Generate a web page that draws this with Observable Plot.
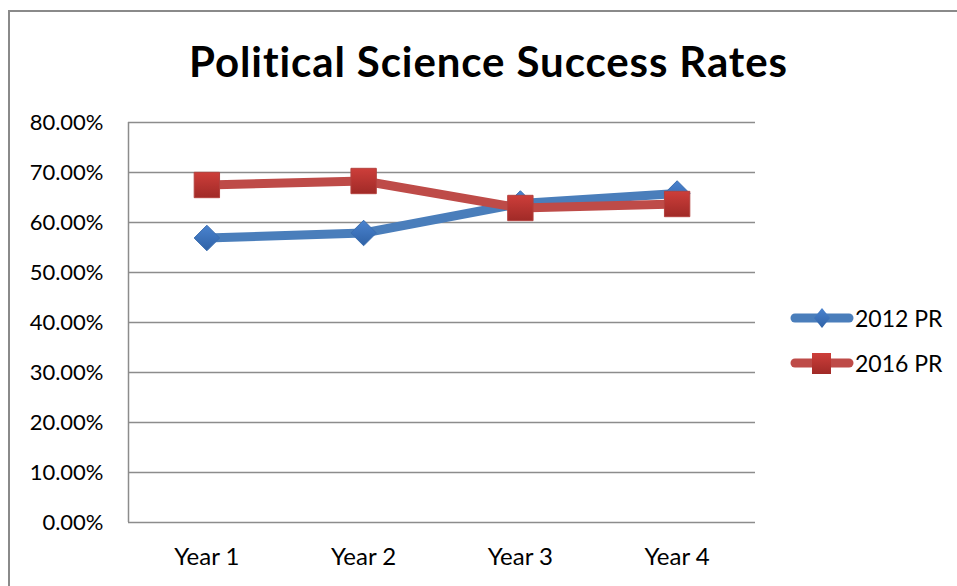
<!DOCTYPE html>
<html>
<head>
<meta charset="utf-8">
<script src="https://cdn.jsdelivr.net/npm/d3@7"></script>
<script src="https://cdn.jsdelivr.net/npm/@observablehq/plot@0.6"></script>
<style>
  body { margin: 0; background: #fff; font-family: Lato, "Open Sans", sans-serif; }
  #wrap { position: relative; width: 957px; height: 586px; overflow: hidden; background: #fff; }
  #border { position: absolute; left: 8px; top: 10px; width: 1200px; height: 800px; border: 2px solid #8a8a8a; box-sizing: border-box; }
  #title { position: absolute; left: 0; width: 977px; top: 40px; line-height: 1; text-align: center; font-weight: bold; font-size: 42px; letter-spacing: 0.9px; color: #000; }
  #chart { position: absolute; left: 0; top: 100px; }
  #legend { position: absolute; left: 790px; top: 295px; font-size: 23px; color: #000; }
  .lg { display: flex; align-items: center; height: 45px; }
  .lg svg { margin-right: 1px; }
</style>
</head>
<body>
<div id="wrap">
  <div id="border"></div>
  <div id="title">Political Science Success Rates</div>
  <div id="chart"></div>
  <div id="legend"></div>
</div>
<script>
const years = ["Year 1", "Year 2", "Year 3", "Year 4"];
const pr2012 = [0.569, 0.579, 0.638, 0.658];
const pr2016 = [0.675, 0.683, 0.629, 0.637];
const seriesNames = ["2012 PR", "2016 PR"];
const yTicks = [0, 0.1, 0.2, 0.3, 0.4, 0.5, 0.6, 0.7, 0.8];

const blueLine = "#4a7ebb", red = "#be4b48";

const rows = [];
years.forEach((y, i) => {
  rows.push({i, year: y, series: seriesNames[0], value: pr2012[i]});
  rows.push({i, year: y, series: seriesNames[1], value: pr2016[i]});
});
const s1 = rows.filter(d => d.series === seriesNames[0]);
const s2 = rows.filter(d => d.series === seriesNames[1]);

const plot = Plot.plot({
  width: 800,
  height: 486,
  marginLeft: 128,
  marginRight: 45,
  marginTop: 22,
  marginBottom: 64,
  style: {fontFamily: "Lato, 'Open Sans', sans-serif", fontSize: "22px", color: "#000", background: "transparent"},
  x: {domain: [-0.5, years.length - 0.5], ticks: years.map((_, i) => i), tickFormat: i => years[i], tickSize: 0, tickPadding: 25, label: null},
  y: {domain: [0, 0.8], ticks: yTicks, tickFormat: d3.format(".2%"), tickSize: 0, tickPadding: 25, label: null},
  marks: [
    Plot.ruleY(yTicks, {stroke: "#8c8c8c", strokeWidth: 1.5}),
    Plot.ruleX([-0.5], {stroke: "#8c8c8c", strokeWidth: 1.5}),
    Plot.line(s1, {x: "i", y: "value", stroke: blueLine, strokeWidth: 9, strokeLinejoin: "round", strokeLinecap: "round"}),
    Plot.dot(s1, {x: "i", y: "value", symbol: "diamond2", r: 11.5, fill: "url(#gBlue)", stroke: "#3b6eb0", strokeWidth: 1}),
    Plot.line(s2, {x: "i", y: "value", stroke: red, strokeWidth: 9, strokeLinejoin: "round", strokeLinecap: "round"}),
    Plot.dot(s2, {x: "i", y: "value", symbol: "square", r: 14.3, fill: "url(#gRed)", stroke: "#b3403d", strokeWidth: 1})
  ]
});

const svg = d3.select(plot);
const defs = svg.insert("defs", ":first-child");
function grad(id, c1, c2) {
  const g = defs.append("linearGradient").attr("id", id).attr("x1", 0).attr("y1", 0).attr("x2", 0).attr("y2", 1);
  g.append("stop").attr("offset", "0%").attr("stop-color", c1);
  g.append("stop").attr("offset", "100%").attr("stop-color", c2);
}
grad("gBlue", "#4a83cf", "#2f62a6");
grad("gRed", "#cd3e3a", "#a02a27");
svg.selectAll("g[aria-label='x-axis tick label'] text, g[aria-label='x-axis tick label']").style("font-size", "24px");
document.getElementById("chart").appendChild(plot);

// legend
const leg = d3.select("#legend");
const legendSpec = [
  {name: seriesNames[0], color: blueLine, symbol: "diamond"},
  {name: seriesNames[1], color: red, symbol: "square"}
];
legendSpec.forEach(s => {
  const row = leg.append("div").attr("class", "lg");
  const sv = row.append("svg").attr("width", 64).attr("height", 30);
  sv.append("line").attr("x1", 5).attr("x2", 59).attr("y1", 15).attr("y2", 15)
    .attr("stroke", s.color).attr("stroke-width", 9).attr("stroke-linecap", "round");
  if (s.symbol === "diamond") {
    sv.append("path").attr("d", "M32,5 L40,15 L32,25 L24,15 Z").attr("fill", "url(#gBlue)");
  } else {
    sv.append("rect").attr("x", 22).attr("y", 5).attr("width", 19).attr("height", 21).attr("fill", "url(#gRed)");
  }
  row.append("span").text(s.name);
});
</script>
</body>
</html>
